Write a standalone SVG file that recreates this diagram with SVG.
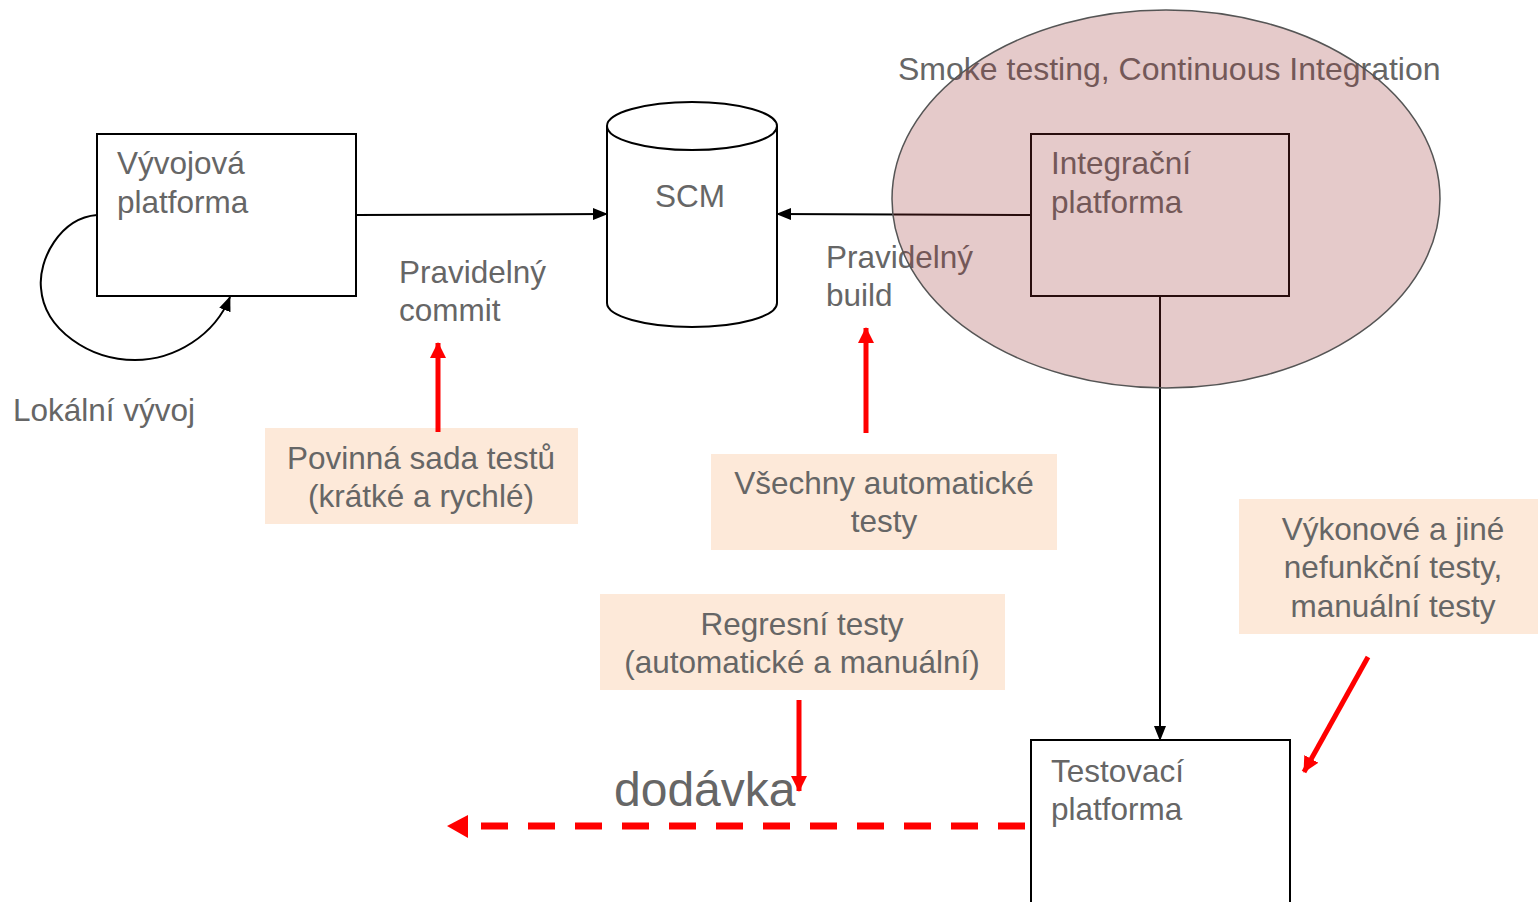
<svg xmlns="http://www.w3.org/2000/svg" width="1538" height="902" viewBox="0 0 1538 902">
<style>
.t{font-family:"Liberation Sans",Arial,sans-serif;font-size:31.5px;fill:#666}
.c{text-anchor:middle}
.box{fill:#fff;stroke:#000;stroke-width:2}
.peach{fill:#fde9d9}
.ln{fill:none;stroke:#000;stroke-width:2}
.red{fill:none;stroke:#f00;stroke-width:5}
</style>
<defs>
<marker id="ab" viewBox="0 0 15 12" refX="14" refY="6" markerWidth="15" markerHeight="12" markerUnits="userSpaceOnUse" orient="auto">
<path d="M0,0 L15,6 L0,12 z" fill="#000"/>
</marker>
<marker id="ar" viewBox="0 0 16 16" refX="15" refY="8" markerWidth="16" markerHeight="16" markerUnits="userSpaceOnUse" orient="auto">
<path d="M0,0 L16,8 L0,16 z" fill="#f00"/>
</marker>
</defs>

<g id="node-vyvojova">
<rect class="box" x="97" y="134" width="259" height="162"/>
<text class="t" x="117" y="174">Vývojová</text>
<text class="t" x="117" y="213">platforma</text>
</g>

<g id="node-scm">
<path d="M607,126 L607,303 A85,24 0 0 0 777,303 L777,126" fill="#fff" stroke="#000" stroke-width="2"/>
<ellipse cx="692" cy="126" rx="85" ry="24" fill="#fff" stroke="#000" stroke-width="2"/>
<text class="t c" x="690" y="207">SCM</text>
</g>

<g id="node-integracni">
<rect class="box" x="1031" y="134" width="258" height="162"/>
<text class="t" x="1051" y="174">Integrační</text>
<text class="t" x="1051" y="213">platforma</text>
</g>

<g id="node-testovaci">
<rect class="box" x="1031" y="740" width="259" height="170"/>
<text class="t" x="1051" y="782">Testovací</text>
<text class="t" x="1051" y="820">platforma</text>
</g>

<g id="labels">
<text class="t" x="399" y="283">Pravidelný</text>
<text class="t" x="399" y="321">commit</text>
<text class="t" x="826" y="268">Pravidelný</text>
<text class="t" x="826" y="306">build</text>
<text class="t" x="13" y="421">Lokální vývoj</text>
<text class="t" x="898" y="80" style="font-size:32px">Smoke testing, Continuous Integration</text>
<text class="t" x="614" y="806" style="font-size:48px">dodávka</text>
</g>

<g id="node-povinna">
<rect class="peach" x="265" y="428" width="313" height="96"/>
<text class="t c" x="421" y="469">Povinná sada testů</text>
<text class="t c" x="421" y="507">(krátké a rychlé)</text>
</g>

<g id="node-vsechny">
<rect class="peach" x="711" y="454" width="346" height="96"/>
<text class="t c" x="884" y="494">Všechny automatické</text>
<text class="t c" x="884" y="532">testy</text>
</g>

<g id="node-regresni">
<rect class="peach" x="600" y="594" width="405" height="96"/>
<text class="t c" x="802" y="635">Regresní testy</text>
<text class="t c" x="802" y="673">(automatické a manuální)</text>
</g>

<g id="node-vykonove">
<rect class="peach" x="1239" y="499" width="299" height="135"/>
<text class="t c" x="1393" y="540">Výkonové a jiné</text>
<text class="t c" x="1393" y="578">nefunkční testy,</text>
<text class="t c" x="1393" y="617">manuální testy</text>
</g>

<g id="connectors">
<path class="ln" d="M356,215 L607,214" marker-end="url(#ab)"/>
<path class="ln" d="M1031,215 L777,214" marker-end="url(#ab)"/>
<path class="ln" d="M1160,296 L1160,740" marker-end="url(#ab)"/>
<path class="ln" d="M97,215 C60,218 38,260 41,288 C44,330 90,360 135,360 C175,360 215,335 230,297" marker-end="url(#ab)"/>
<path class="red" d="M438,432 L438,343" marker-end="url(#ar)"/>
<path class="red" d="M866,433 L866,328" marker-end="url(#ar)"/>
<path class="red" d="M799,700 L799,791" marker-end="url(#ar)"/>
<path class="red" d="M1368,657 L1304,772" marker-end="url(#ar)"/>
<path d="M1025,826 L478,826" fill="none" stroke="#f00" stroke-width="7" stroke-dasharray="27 20"/>
<path d="M447,826 L468,815 L468,838 z" fill="#f00"/>
</g>

<g id="node-ci-ellipse">
<ellipse cx="1166" cy="199" rx="274" ry="189" fill="rgb(153,51,51)" fill-opacity="0.26" stroke="#555" stroke-width="1.5"/>
</g>
</svg>
